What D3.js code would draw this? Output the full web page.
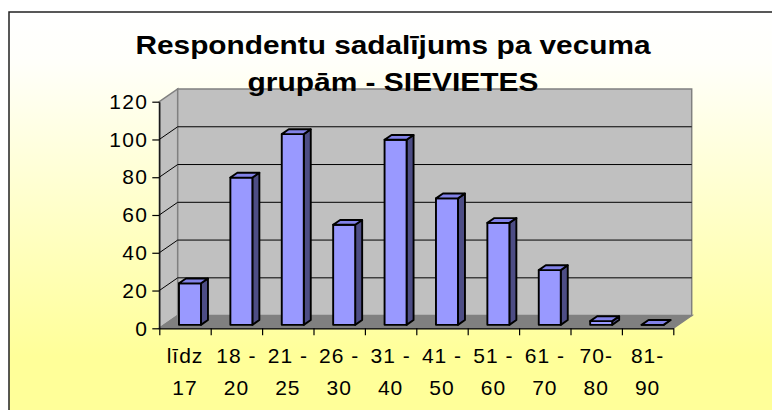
<!DOCTYPE html>
<html>
<head>
<meta charset="utf-8">
<script src="https://cdn.jsdelivr.net/npm/d3@7"></script>
<style>
  body { margin: 0; background: #fff; }
  text { font-family: Arial, "Liberation Sans", sans-serif; }
</style>
</head>
<body>
<svg width="772" height="410"></svg>
<script>
// data
var titleLines = ["Respondentu sadalījums pa vecuma", "grupām - SIEVIETES"];
var categories = ["līdz 17", "18 - 20", "21 - 25", "26 - 30", "31 - 40", "41 - 50", "51 - 60", "61 - 70", "70-80", "81-90"];
var values = [22, 78, 101, 53, 98, 67, 54, 29, 2, 0];
var yTicks = [0, 20, 40, 60, 80, 100, 120];

var svg = d3.select("svg"),
  width = +svg.attr("width"),
  height = +svg.attr("height");

// background gradient
var defs = svg.append("defs");
var grad = defs.append("linearGradient")
  .attr("id", "bg")
  .attr("x1", 0).attr("y1", 0).attr("x2", 0).attr("y2", 1);
grad.append("stop").attr("offset", "0%").attr("stop-color", "#ffffff");
grad.append("stop").attr("offset", "12%").attr("stop-color", "#fffffa");
grad.append("stop").attr("offset", "82%").attr("stop-color", "#ffff99");

svg.append("rect")
  .attr("x", 9).attr("y", 12)
  .attr("width", width + 10).attr("height", height + 10)
  .attr("fill", "url(#bg)")
  .attr("stroke", "#222")
  .attr("stroke-width", 1.5);

// scales
var x0 = 159.3, x1 = 673.3;
var y = d3.scaleLinear().domain([0, 120]).range([328.3, 101.7]);
var x = d3.scaleBand().domain(categories).range([x0, x1]).padding(0);
var xi = d3.scaleLinear().domain([0, categories.length]).range([x0, x1]);

// depth projection
var DX = 18.4, DY = 12.7;
function P(xs, v, d) { return [xs + d * DX, y(v) - d * DY]; }
function poly(pts) { return pts.map(function(p) { return p.join(","); }).join(" "); }

var vmax = y.domain()[1];

// walls and floor
svg.append("polygon")
  .attr("points", poly([P(x0, 0, 0), P(x0, 0, 1), P(x0, vmax, 1), P(x0, vmax, 0)]))
  .attr("fill", "#c0c0c0").attr("stroke", "#808080").attr("stroke-width", 1.5);

svg.append("polygon")
  .attr("points", poly([P(x0, 0, 0), P(x1, 0, 0), P(x1, 0, 1), P(x0, 0, 1)]))
  .attr("fill", "#808080").attr("stroke", "#808080").attr("stroke-width", 1.5);

svg.append("polygon")
  .attr("points", poly([P(x0, 0, 1), P(x1, 0, 1), P(x1, vmax, 1), P(x0, vmax, 1)]))
  .attr("fill", "#c0c0c0").attr("stroke", "#808080").attr("stroke-width", 1.5);

// gridlines
svg.append("g")
  .selectAll("polyline")
  .data(yTicks.filter(function(d) { return d > 0 && d < vmax; }))
  .enter().append("polyline")
    .attr("points", function(d) { return poly([P(x0, d, 0), P(x0, d, 1), P(x1, d, 1)]); })
    .attr("fill", "none")
    .attr("stroke", "#000")
    .attr("stroke-width", 1);

// bars
var bw = x.bandwidth() * 0.428;
var d0 = 0.27, d1 = 0.65;

var bars = svg.append("g")
  .selectAll("g")
  .data(categories.map(function(c, i) { return { cat: c, v: values[i] }; }))
  .enter().append("g")
    .attr("stroke", "#000")
    .attr("stroke-width", 1.9)
    .attr("stroke-linejoin", "round");

function left(d) { return x(d.cat) + (x.bandwidth() - bw) / 2; }

bars.append("polygon")
  .attr("fill", "#4d4d85")
  .attr("points", function(d) {
    var r = left(d) + bw;
    return poly([P(r, d.v, d0), P(r, d.v, d1), P(r, 0, d1), P(r, 0, d0)]);
  });

bars.append("polygon")
  .attr("fill", "#9999ff")
  .attr("points", function(d) {
    var l = left(d), r = l + bw;
    return poly([P(l, d.v, d0), P(r, d.v, d0), P(r, 0, d0), P(l, 0, d0)]);
  });

bars.append("polygon")
  .attr("fill", "#8282e8")
  .attr("points", function(d) {
    var l = left(d), r = l + bw;
    return poly([P(l, d.v, d0), P(r, d.v, d0), P(r, d.v, d1), P(l, d.v, d1)]);
  });

// y axis
svg.append("g")
  .attr("transform", "translate(" + x0 + ",0)")
  .call(d3.axisLeft(y).tickValues(yTicks).tickSize(7).tickPadding(4).tickSizeOuter(0))
  .call(function(g) {
    g.selectAll("text")
      .attr("font-size", 21)
      .attr("letter-spacing", 1.3)
      .attr("font-family", "Arial, 'Liberation Sans', sans-serif")
      .attr("fill", "#000");
    g.selectAll("line, path").attr("stroke", "#000").attr("stroke-width", 1.2);
  });

// x axis ticks at category boundaries
svg.append("g")
  .attr("transform", "translate(0," + y(0) + ")")
  .call(d3.axisBottom(xi).tickValues(d3.range(categories.length + 1)).tickSize(7).tickFormat("").tickSizeOuter(0))
  .call(function(g) {
    g.selectAll("line, path").attr("stroke", "#000").attr("stroke-width", 1.2);
  });

// category labels, wrapped onto two lines
function wrap(s) {
  var k = s.lastIndexOf(" ");
  if (k < 0) k = s.indexOf("-") + 1;
  return [s.slice(0, k).trim(), s.slice(k).trim()];
}

var lab = svg.append("g")
  .attr("transform", "translate(0," + y(0) + ")")
  .call(d3.axisBottom(x).tickSize(0).tickSizeOuter(0))
  .call(function(g) { g.select(".domain").remove(); });

lab.selectAll("text")
  .attr("font-size", 21)
  .attr("letter-spacing", 1)
  .attr("font-family", "Arial, 'Liberation Sans', sans-serif")
  .attr("fill", "#000")
  .attr("dy", null)
  .text(null)
  .each(function(d) {
    var t = d3.select(this), parts = wrap(d);
    t.append("tspan").attr("x", 0).attr("y", 35).text(parts[0]);
    t.append("tspan").attr("x", 0).attr("y", 66.5).text(parts[1]);
  });

// title (glyphs stretched a little wider, like the original rendering)
var titleWidths = [515, 291];
svg.append("g")
  .selectAll("text")
  .data(titleLines)
  .enter().append("text")
    .attr("text-anchor", "middle")
    .attr("font-size", 25)
    .attr("font-weight", "bold")
    .attr("fill", "#000")
    .attr("x", 393)
    .attr("y", function(d, i) { return 53.5 + i * 37.5; })
    .attr("textLength", function(d, i) { return titleWidths[i]; })
    .attr("lengthAdjust", "spacingAndGlyphs")
    .text(function(d) { return d; });
</script>
</body>
</html>
